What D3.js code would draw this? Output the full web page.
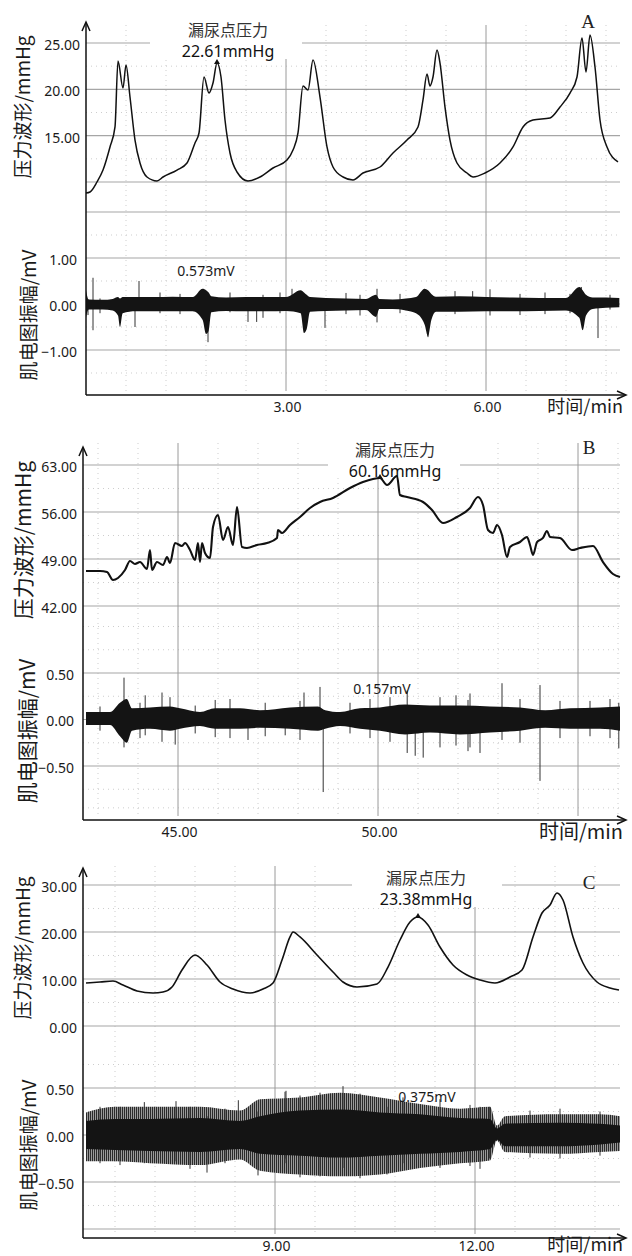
<!DOCTYPE html>
<html>
<head>
<meta charset="utf-8">
<script src="https://cdn.jsdelivr.net/npm/d3@7/dist/d3.min.js"></script>
<style>
  body { margin: 0; background: #fff; }
  svg { display: block; }
</style>
</head>
<body>
<svg id="chart" width="632" height="1256"></svg>
<script>
// ---- panel A : pressure [min, mmHg] ----
var pressureA = [
  [0, 8.81], [0.06, 8.92], [0.165, 10.0], [0.255, 11.29], [0.36, 13.78], [0.435, 15.94],
  [0.48, 23.06], [0.555, 20.14], [0.6, 22.63], [0.66, 19.17], [0.735, 14.53], [0.81, 12.05],
  [0.915, 10.54], [1.065, 10.11], [1.155, 10.54], [1.365, 11.29], [1.515, 12.05], [1.635, 14.21],
  [1.695, 15.29], [1.77, 21.33], [1.845, 19.6], [1.905, 20.68], [1.965, 22.84], [2.025, 21.33],
  [2.085, 16.69], [2.16, 13.13], [2.265, 11.08], [2.43, 10.11], [2.61, 10.54], [2.805, 11.51],
  [3.015, 12.37], [3.105, 13.45], [3.18, 15.29], [3.255, 20.36], [3.33, 19.93], [3.405, 23.17],
  [3.51, 19.17], [3.615, 13.78], [3.705, 11.62], [3.855, 10.54], [4.005, 10.22], [4.155, 10.97],
  [4.41, 11.62], [4.605, 13.13], [4.815, 14.53], [4.98, 15.94], [5.055, 18.85], [5.115, 21.65],
  [5.16, 20.36], [5.205, 21.33], [5.265, 24.24], [5.31, 22.84], [5.385, 18.09], [5.46, 14.53],
  [5.565, 12.05], [5.715, 10.97], [5.805, 10.54], [5.985, 10.97], [6.21, 12.05], [6.405, 13.78],
  [6.555, 15.94], [6.705, 16.69], [6.96, 16.91], [7.11, 18.09], [7.26, 19.6], [7.365, 21.33],
  [7.44, 25.54], [7.5, 21.87], [7.56, 25.86], [7.635, 22.41], [7.71, 16.69], [7.815, 13.78],
  [7.98, 12.16]
];
// EMG envelope [min, high mV, low mV]
var emgBandA = [
  [0.00, 0.30, -0.30], [0.04, 0.10, -0.12], [0.25, 0.09, -0.12], [0.40, 0.11, -0.14],
  [0.48, 0.15, -0.25], [0.51, 0.12, -0.50], [0.55, 0.15, -0.20], [0.75, 0.15, -0.16],
  [1.00, 0.15, -0.16], [1.30, 0.16, -0.16], [1.60, 0.15, -0.16], [1.75, 0.33, -0.35],
  [1.80, 0.30, -0.65], [1.84, 0.25, -0.58], [1.88, 0.17, -0.18], [2.10, 0.14, -0.15],
  [2.40, 0.15, -0.16], [2.70, 0.15, -0.16], [3.00, 0.15, -0.15], [3.22, 0.30, -0.20],
  [3.27, 0.25, -0.63], [3.31, 0.20, -0.55], [3.36, 0.15, -0.17], [3.60, 0.13, -0.15],
  [3.90, 0.12, -0.14], [4.20, 0.11, -0.13], [4.35, 0.20, -0.28], [4.40, 0.11, -0.11],
  [4.60, 0.10, -0.11], [4.80, 0.12, -0.14], [4.95, 0.15, -0.20], [5.08, 0.33, -0.45],
  [5.13, 0.30, -0.70], [5.18, 0.22, -0.35], [5.25, 0.16, -0.17], [5.60, 0.17, -0.17],
  [6.00, 0.15, -0.16], [6.40, 0.14, -0.16], [6.80, 0.13, -0.15], [7.20, 0.13, -0.14],
  [7.40, 0.37, -0.30], [7.45, 0.30, -0.57], [7.50, 0.20, -0.25], [7.60, 0.14, -0.11],
  [7.80, 0.14, -0.08], [8.00, 0.13, -0.07]
];
// EMG spikes [min, low mV, high mV]
var emgSpikesA = [
  [0.03, -0.24, 0.10], [0.105, -0.57, 0.57], [0.21, -0.20, 0.12], [0.735, -0.50, 0],
  [0.795, 0, 0.50], [1.11, -0.20, 0.25], [1.41, -0.22, 0.22], [1.83, -0.83, 0],
  [2.16, -0.18, 0.25], [2.43, -0.39, 0], [2.56, -0.39, 0], [2.655, -0.30, 0.20],
  [2.91, -0.20, 0.25], [3.09, 0, 0.33], [3.585, -0.52, 0], [3.90, -0.22, 0.24],
  [4.11, -0.25, 0.20], [4.365, -0.40, 0.33], [4.71, -0.20, 0.22], [5.13, -0.72, 0],
  [5.535, -0.22, 0.28], [5.80, 0, 0.28], [6.06, -0.25, 0.32], [6.51, -0.24, 0.22],
  [6.885, -0.22, 0.25], [7.26, -0.20, 0.22], [7.43, 0, 0.37], [7.68, -0.74, 0],
  [7.86, -0.12, 0.20]
];

// ---- panel B ----
var pressureB = [
  [42.7, 47.21], [43.05, 47.21], [43.225, 47.06], [43.375, 45.87], [43.5, 46.17], [43.675, 47.36],
  [43.8, 48.7], [43.925, 48.26], [44.05, 48.55], [44.225, 47.51], [44.3, 50.34], [44.35, 47.36],
  [44.475, 48.55], [44.625, 48.11], [44.725, 49.3], [44.8, 48.4], [44.925, 51.38], [45.1, 50.94],
  [45.175, 51.38], [45.3, 50.34], [45.425, 48.85], [45.5, 51.38], [45.55, 48.55], [45.6, 51.38],
  [45.675, 49.89], [45.8, 49.15], [45.875, 53.77], [46.0, 55.55], [46.125, 51.83], [46.25, 53.77],
  [46.375, 51.09], [46.475, 56.74], [46.6, 50.79], [46.725, 50.64], [46.975, 51.09], [47.225, 51.38],
  [47.475, 52.13], [47.5, 53.32], [47.6, 52.87], [47.8, 54.06], [48.05, 55.26], [48.3, 56.6],
  [48.55, 57.49], [48.875, 58.09], [49.3, 59.57], [49.625, 60.47], [49.875, 60.92], [50.05, 61.06],
  [50.225, 60.02], [50.475, 61.36], [50.55, 58.53], [50.725, 58.23], [51.125, 57.49], [51.35, 56.3],
  [51.625, 54.36], [51.975, 55.26], [52.3, 56.6], [52.5, 58.23], [52.625, 57.04], [52.75, 53.32],
  [52.875, 52.87], [52.975, 54.06], [53.1, 52.57], [53.225, 49.3], [53.3, 50.79], [53.55, 51.53],
  [53.725, 52.28], [53.8, 51.09], [53.875, 49.6], [53.975, 51.53], [54.125, 52.13], [54.225, 53.17],
  [54.3, 52.28], [54.55, 52.13], [54.85, 50.34], [55.05, 50.64], [55.375, 50.94], [55.625, 48.55],
  [55.875, 46.77], [56.05, 46.32]
];
var emgBandB = [
  [42.70, 0.08, -0.06], [43.30, 0.08, -0.06], [43.55, 0.18, -0.18], [43.72, 0.22, -0.25],
  [43.85, 0.12, -0.12], [44.30, 0.13, -0.10], [44.80, 0.14, -0.12], [45.05, 0.12, -0.10],
  [45.55, 0.08, -0.07], [45.93, 0.12, -0.10], [46.55, 0.12, -0.10], [47.05, 0.10, -0.09],
  [47.80, 0.13, -0.10], [48.50, 0.14, -0.12], [48.68, 0.10, -0.10], [49.05, 0.08, -0.07],
  [49.55, 0.12, -0.10], [50.05, 0.13, -0.12], [50.68, 0.16, -0.16], [51.30, 0.15, -0.14],
  [52.05, 0.15, -0.16], [52.80, 0.14, -0.14], [53.55, 0.13, -0.12], [54.18, 0.10, -0.09],
  [54.80, 0.12, -0.10], [55.55, 0.13, -0.10], [56.05, 0.14, -0.12]
];
var emgSpikesB = [
  [43.05, -0.12, 0.14], [43.65, -0.30, 0.45], [44.05, -0.20, 0.18], [44.18, -0.17, 0.26],
  [44.60, -0.24, 0.29], [44.80, 0, 0.24], [44.93, -0.27, 0], [45.43, -0.15, 0.15],
  [45.93, -0.19, 0.21], [46.30, -0.20, 0.22], [46.75, -0.22, 0], [47.18, -0.18, 0.18],
  [47.68, -0.17, 0], [48.05, -0.22, 0.20], [48.15, 0, 0.29], [48.55, 0, 0.35],
  [48.63, -0.78, 0], [49.30, -0.15, 0.18], [49.80, -0.20, 0.22], [50.30, -0.24, 0.24],
  [50.73, -0.36, 0.31], [50.93, -0.39, 0], [51.13, -0.41, 0], [51.55, -0.30, 0.24],
  [51.95, -0.28, 0.26], [52.25, -0.34, 0.21], [52.30, -0.30, 0.28], [52.55, -0.36, 0],
  [53.10, -0.22, 0.39], [53.55, -0.25, 0.22], [54.05, -0.66, 0.37], [54.55, -0.20, 0.20],
  [55.30, -0.18, 0.20], [55.80, -0.20, 0.22], [56.02, -0.31, 0.18]
];

// ---- panel C ----
var pressureC = [
  [6.165, 9.15], [6.375, 9.36], [6.57, 9.57], [6.72, 8.72], [6.93, 7.45], [7.17, 7.02],
  [7.32, 7.23], [7.455, 8.3], [7.605, 11.91], [7.8, 15.11], [7.98, 12.98], [8.175, 9.36],
  [8.37, 7.87], [8.625, 7.02], [8.82, 7.87], [8.97, 9.15], [9.105, 14.04], [9.225, 18.94],
  [9.27, 20.0], [9.375, 18.94], [9.63, 15.11], [9.87, 11.49], [10.02, 9.36], [10.23, 8.3],
  [10.53, 8.94], [10.695, 12.55], [10.875, 18.3], [11.025, 22.13], [11.145, 23.19], [11.295, 21.49],
  [11.475, 16.81], [11.67, 12.98], [11.88, 10.85], [12.075, 9.79], [12.3, 9.15], [12.525, 10.43],
  [12.705, 11.91], [12.87, 18.94], [13.005, 24.04], [13.125, 25.74], [13.23, 28.3], [13.32, 26.81],
  [13.47, 18.94], [13.62, 13.4], [13.83, 9.36], [14.025, 8.09], [14.16, 7.66]
];
var emgBandC = [
  [6.165, 0.15, -0.15], [6.60, 0.17, -0.16], [7.125, 0.17, -0.17], [7.875, 0.18, -0.18],
  [8.475, 0.15, -0.15], [8.775, 0.20, -0.20], [9.375, 0.26, -0.22], [9.975, 0.27, -0.24],
  [10.575, 0.24, -0.22], [11.175, 0.22, -0.20], [11.775, 0.18, -0.18], [12.225, 0.17, -0.15],
  [12.33, 0.07, -0.05], [12.45, 0.12, -0.12], [13.275, 0.13, -0.12], [13.875, 0.12, -0.10],
  [14.175, 0.10, -0.08]
];
var emgFringeC = [
  [6.165, 0.24, -0.28], [6.60, 0.30, -0.28], [7.125, 0.30, -0.30], [7.875, 0.30, -0.32],
  [8.475, 0.26, -0.26], [8.775, 0.38, -0.38], [9.375, 0.40, -0.42], [9.975, 0.45, -0.44],
  [10.575, 0.40, -0.42], [11.175, 0.33, -0.35], [11.775, 0.28, -0.30], [12.225, 0.30, -0.27],
  [12.33, 0.10, -0.06], [12.45, 0.20, -0.18], [13.275, 0.22, -0.20], [13.875, 0.22, -0.18],
  [14.175, 0.20, -0.17]
];
var emgSpikesC = [
  [6.375, -0.30, 0.30], [6.675, -0.32, 0.30], [7.04, -0.30, 0.35], [7.515, -0.28, 0.36],
  [7.725, -0.36, 0.30], [7.98, -0.40, 0.20], [8.25, -0.30, 0.28], [8.45, -0.20, 0.37],
  [8.745, -0.43, 0.25], [9.15, -0.30, 0.46], [9.165, -0.25, 0.47], [9.375, -0.45, 0.42],
  [9.675, -0.44, 0.45], [10.02, -0.35, 0.52], [10.275, -0.46, 0.44], [10.68, -0.42, 0.30],
  [10.92, -0.30, 0.40], [11.475, -0.35, 0.38], [11.925, -0.33, 0.32], [12.075, -0.36, 0.30],
  [12.22, -0.25, 0.30], [12.825, -0.24, 0.26], [13.275, -0.25, 0.28], [13.875, -0.22, 0.25]
];

// ---- labels and ticks ----
var panelLetters = ['A', 'B', 'C'];
var leakPointLabels = ['22.61mmHg', '60.16mmHg', '23.38mmHg'];
var leakPoints = [[1.965, 22.84], [50.05, 61.06], [11.145, 23.19]];
var emgPeakLabels = ['0.573mV', '0.157mV', '0.375mV'];

var pressureTicksA = [25, 20, 15], pressureGridA = [25, 20, 15, 10], pressureMinorA = [22.5, 17.5, 12.5];
var emgTicksA = [1, 0, -1], emgGridA = [2, 1, 0, -1], emgMinorA = [1.5, 0.5, -0.5, -1.5];
var timeTicksA = [3, 6], timeMinorA = [0.6, 1.2, 1.8, 2.4, 3.6, 4.2, 4.8, 5.4, 6.6, 7.2, 7.8];

var pressureTicksB = [63, 56, 49, 42], pressureGridB = [63, 56, 49, 42], pressureMinorB = [59.5, 52.5, 45.5];
var emgTicksB = [0.5, 0, -0.5], emgGridB = [0.5, 0, -0.5], emgMinorB = [1.0, 0.75, 0.25, -0.25, -0.75, -0.95];
var timeTicksB = [45, 50], timeGridB = [45, 50, 55], timeMinorB = [43, 44, 46, 47, 48, 49, 51, 52, 53, 54, 56];

var pressureTicksC = [30, 20, 10, 0], pressureGridC = [30, 20, 10, 0], pressureMinorC = [25, 15, 5];
var emgTicksC = [0.5, 0, -0.5], emgGridC = [0.5, 0, -0.5, -1.0], emgMinorC = [0.75, 0.25, -0.25, -0.75];
var timeTicksC = [9, 12], timeMinorC = [6.6, 7.2, 7.8, 8.4, 9.6, 10.2, 10.8, 11.4, 12.6, 13.2, 13.8];

var svg = d3.select('#chart');
var fmt = d3.format('.2f');
var RIGHT = 620;

// hairline hatch used for the grey fringe of the dense EMG in panel C
var pat = svg.append('defs').append('pattern').attr('id', 'hatch')
  .attr('patternUnits', 'userSpaceOnUse').attr('width', 2).attr('height', 8);
pat.append('rect').attr('width', 2).attr('height', 8).attr('fill', '#9a9a9a');
pat.append('rect').attr('width', 1).attr('height', 8).attr('fill', '#2a2a2a');

var panels = [
  {
    letter: panelLetters[0], pressure: pressureA, band: emgBandA, fringe: null, spikes: emgSpikesA,
    leak: leakPoints[0], leakLabel: leakPointLabels[0], emgLabel: emgPeakLabels[0],
    pTicks: pressureTicksA, pGrid: pressureGridA, pMinor: pressureMinorA,
    eTicks: emgTicksA, eGrid: emgGridA, eMinor: emgMinorA,
    tTicks: timeTicksA, tGrid: timeTicksA, tMinor: timeMinorA,
    left: 86, axisY: 395, arrowTop: 22, gridTop: 25, lineW: 1.5, tickPad: 7, timeY: 12,
    x: d3.scaleLinear().domain([3, 6]).range([286, 486]),
    yP: d3.scaleLinear().domain([10, 25]).range([182, 43]),
    yE: d3.scaleLinear().domain([-1, 1]).range([350, 258]),
    box: [150, 0, 302, 59], boxCx: 228, boxY1: 30, boxY2: 51,
    emgLabelPos: [206, 271], letterPos: [588, 28],
    titleSize: 19, pTitle: [23, 107], eTitle: [29, 315], timeSize: 18
  },
  {
    letter: panelLetters[1], pressure: pressureB, band: emgBandB, fringe: null, spikes: emgSpikesB,
    leak: leakPoints[1], leakLabel: leakPointLabels[1], emgLabel: emgPeakLabels[1],
    pTicks: pressureTicksB, pGrid: pressureGridB, pMinor: pressureMinorB,
    eTicks: emgTicksB, eGrid: emgGridB, eMinor: emgMinorB,
    tTicks: timeTicksB, tGrid: timeGridB, tMinor: timeMinorB,
    left: 83, axisY: 820, arrowTop: 447, gridTop: 443, lineW: 2.1, tickPad: 7, timeY: 12,
    x: d3.scaleLinear().domain([45, 50]).range([178, 378]),
    yP: d3.scaleLinear().domain([49, 56]).range([559, 512]),
    yE: d3.scaleLinear().domain([-0.5, 0.5]).range([766, 673]),
    box: [328, 430, 460, 476], boxCx: 395, boxY1: 450, boxY2: 471,
    emgLabelPos: [382, 689], letterPos: [589, 454],
    titleSize: 21, pTitle: [24, 540], eTitle: [28, 731], timeSize: 20
  },
  {
    letter: panelLetters[2], pressure: pressureC, band: emgBandC, fringe: emgFringeC, spikes: emgSpikesC,
    leak: leakPoints[2], leakLabel: leakPointLabels[2], emgLabel: emgPeakLabels[2],
    pTicks: pressureTicksC, pGrid: pressureGridC, pMinor: pressureMinorC,
    eTicks: emgTicksC, eGrid: emgGridC, eMinor: emgMinorC,
    tTicks: timeTicksC, tGrid: timeTicksC, tMinor: timeMinorC,
    left: 83, axisY: 1238, arrowTop: 868, gridTop: 866, lineW: 1.6, tickPad: 3, timeY: 7,
    x: d3.scaleLinear().domain([9, 12]).range([275, 475]),
    yP: d3.scaleLinear().domain([0, 30]).range([1026, 885]),
    yE: d3.scaleLinear().domain([-0.5, 0.5]).range([1182, 1088]),
    box: [352, 855, 502, 907], boxCx: 426, boxY1: 878, boxY2: 899,
    emgLabelPos: [427, 1097], letterPos: [589, 889],
    titleSize: 19, pTitle: [23, 948], eTitle: [29, 1145], timeSize: 18
  }
];

panels.forEach(drawPanel);

function drawPanel(p) {
  var g = svg.append('g');
  var x = p.x, yP = p.yP, yE = p.yE;

  // minor dotted grid
  var minor = g.append('g').attr('stroke', '#cdcdcd').attr('stroke-width', 1)
    .attr('stroke-dasharray', '1,4');
  minor.selectAll('.vm').data(p.tMinor).enter().append('line')
    .attr('x1', x).attr('x2', x).attr('y1', p.gridTop).attr('y2', p.axisY - 3);
  minor.selectAll('.hp').data(p.pMinor).enter().append('line')
    .attr('x1', p.left).attr('x2', RIGHT).attr('y1', yP).attr('y2', yP);
  minor.selectAll('.he').data(p.eMinor).enter().append('line')
    .attr('x1', p.left).attr('x2', RIGHT).attr('y1', yE).attr('y2', yE);

  // major grid
  var major = g.append('g').attr('stroke', '#a6a6a6').attr('stroke-width', 1.2);
  major.selectAll('.hp').data(p.pGrid).enter().append('line')
    .attr('x1', p.left).attr('x2', RIGHT).attr('y1', yP).attr('y2', yP);
  major.selectAll('.he').data(p.eGrid).enter().append('line')
    .attr('x1', p.left).attr('x2', RIGHT).attr('y1', yE).attr('y2', yE);
  major.selectAll('.vg').data(p.tGrid).enter().append('line')
    .attr('stroke', '#9a9a9a').attr('stroke-width', 1)
    .attr('x1', x).attr('x2', x).attr('y1', p.gridTop).attr('y2', p.axisY - 4);

  // white box behind the leak point label
  g.append('rect')
    .attr('x', p.box[0]).attr('y', p.box[1])
    .attr('width', p.box[2] - p.box[0]).attr('height', p.box[3] - p.box[1])
    .attr('fill', '#fff');

  // EMG trace
  var area = d3.area()
    .x(function (d) { return x(d[0]); })
    .y0(function (d) { return yE(d[2]); })
    .y1(function (d) { return yE(d[1]); })
    .curve(d3.curveMonotoneX);
  if (p.fringe) {
    g.append('path').datum(p.fringe).attr('d', area).attr('fill', 'url(#hatch)');
  }
  g.selectAll('.spike').data(p.spikes).enter().append('line')
    .attr('x1', function (d) { return x(d[0]); })
    .attr('x2', function (d) { return x(d[0]); })
    .attr('y1', function (d) { return yE(d[1]); })
    .attr('y2', function (d) { return yE(d[2]); })
    .attr('stroke', '#333').attr('stroke-width', 1);
  g.append('path').datum(p.band).attr('d', area).attr('fill', '#141414');

  // pressure trace
  var line = d3.line()
    .x(function (d) { return x(d[0]); })
    .y(function (d) { return yP(d[1]); })
    .curve(d3.curveMonotoneX);
  g.append('path').datum(p.pressure).attr('d', line)
    .attr('fill', 'none').attr('stroke', '#111').attr('stroke-width', p.lineW)
    .attr('stroke-linejoin', 'round');

  // leak point marker
  var lx = x(p.leak[0]), ly = yP(p.leak[1]);
  g.append('path')
    .attr('d', 'M' + lx + ',' + (ly - 4) + 'L' + (lx + 3) + ',' + (ly + 1) + 'L' + (lx - 3) + ',' + (ly + 1) + 'Z')
    .attr('fill', '#111');

  // axes lines with open arrows
  var ax = g.append('g').attr('stroke', '#111').attr('stroke-width', 1.5).attr('fill', 'none');
  ax.append('line').attr('x1', p.left).attr('x2', p.left).attr('y1', p.axisY).attr('y2', p.arrowTop + 1);
  ax.append('line').attr('x1', p.left).attr('x2', 625).attr('y1', p.axisY).attr('y2', p.axisY);
  ax.append('path').attr('d', 'M' + (p.left - 4) + ',' + (p.arrowTop + 9) + 'L' + p.left + ',' + p.arrowTop +
    'L' + (p.left + 4) + ',' + (p.arrowTop + 9));
  ax.append('path').attr('d', 'M617,' + (p.axisY - 4) + 'L626,' + p.axisY + 'L617,' + (p.axisY + 4));

  // tick labels via d3 axes
  function styleAxis(sel) {
    sel.select('.domain').remove();
    sel.selectAll('text').attr('font-family', '"Noto Sans", "Open Sans", sans-serif')
      .attr('font-size', 14).attr('fill', '#1a1a1a');
  }
  g.append('g').attr('transform', 'translate(' + p.left + ',2)')
    .call(d3.axisLeft(yP).tickValues(p.pTicks).tickFormat(fmt).tickSize(0).tickPadding(6))
    .call(styleAxis);
  g.append('g').attr('transform', 'translate(' + (p.left - 3) + ',2)')
    .call(d3.axisLeft(yE).tickValues(p.eTicks).tickFormat(fmt).tickSize(0).tickPadding(6))
    .call(styleAxis);
  g.append('g').attr('transform', 'translate(1,' + p.axisY + ')')
    .call(d3.axisBottom(x).tickValues(p.tTicks).tickFormat(fmt).tickSize(0).tickPadding(p.tickPad))
    .call(styleAxis);

  var cjk = '"Noto Sans CJK SC", "Noto Sans", sans-serif';
  // axis titles
  g.append('text').attr('transform', 'translate(' + p.pTitle[0] + ',' + p.pTitle[1] + ') rotate(-90)')
    .attr('text-anchor', 'middle').attr('dy', '0.35em')
    .attr('font-family', cjk).attr('font-size', p.titleSize).attr('fill', '#1a1a1a')
    .text('压力波形/mmHg');
  g.append('text').attr('transform', 'translate(' + p.eTitle[0] + ',' + p.eTitle[1] + ') rotate(-90)')
    .attr('text-anchor', 'middle').attr('dy', '0.35em')
    .attr('font-family', cjk).attr('font-size', p.titleSize).attr('fill', '#1a1a1a')
    .text('肌电图振幅/mV');
  g.append('text').attr('x', 623).attr('y', p.axisY + p.timeY).attr('dy', '0.35em')
    .attr('text-anchor', 'end').attr('font-family', cjk).attr('font-size', p.timeSize)
    .attr('fill', '#1a1a1a').text('时间/min');

  // leak point annotation
  g.append('text').attr('x', p.boxCx).attr('y', p.boxY1).attr('dy', '0.35em')
    .attr('text-anchor', 'middle').attr('font-family', cjk).attr('font-size', 16)
    .attr('fill', '#333').text('漏尿点压力');
  g.append('text').attr('x', p.boxCx).attr('y', p.boxY2).attr('dy', '0.35em')
    .attr('text-anchor', 'middle').attr('font-family', '"Noto Sans", sans-serif').attr('font-size', 16)
    .attr('fill', '#111').text(p.leakLabel);

  // EMG amplitude label
  g.append('text').attr('x', p.emgLabelPos[0]).attr('y', p.emgLabelPos[1]).attr('dy', '0.35em')
    .attr('text-anchor', 'middle').attr('font-family', '"Noto Sans", sans-serif').attr('font-size', 14)
    .attr('fill', '#1a1a1a').text(p.emgLabel);

  // panel letter
  g.append('text').attr('x', p.letterPos[0]).attr('y', p.letterPos[1])
    .attr('text-anchor', 'middle').attr('font-family', '"Liberation Serif", "DejaVu Serif", serif')
    .attr('font-size', 19).attr('fill', '#222').text(p.letter);
}
</script>
</body>
</html>
